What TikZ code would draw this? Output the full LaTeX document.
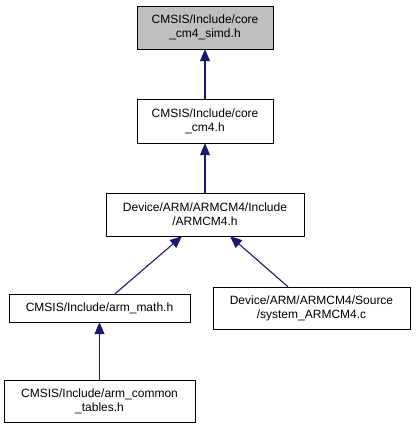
\documentclass[tikz,border=0pt]{standalone}
\usepackage{fontspec}
\setmainfont{Liberation Sans}
\usetikzlibrary{arrows.meta}
\definecolor{incl}{HTML}{191970}

\begin{document}
\begin{tikzpicture}[x=1pt, y=-1pt,
    file/.style={draw, fill=white, align=center, inner sep=0pt, font=\fontsize{12}{14}\selectfont},
    dep/.style={draw=incl, line width=1.1pt, -{Triangle[length=12pt, width=10pt]}}]
    \useasboundingbox (0,0) rectangle (416,429);

    \coordinate (S) at (205, 27.5);
    \coordinate (C) at (205, 121);
    \coordinate (A) at (205, 214.5);
    \coordinate (M) at (99.5, 308);
    \coordinate (Y) at (311.5, 308);
    \coordinate (T) at (99.5, 401);

    \node[file, fill=gray!50, minimum width=136pt, minimum height=43pt] (simd) at (S) {CMSIS/Include/core\\\_cm4\_simd.h};
    \node[file, minimum width=136pt, minimum height=44pt] (core) at (C) {CMSIS/Include/core\\\_cm4.h};
    \node[file, minimum width=198pt, minimum height=43pt] (armcm) at (A) {Device/ARM/ARMCM4/Include\\/ARMCM4.h};
    \node[file, minimum width=181pt, minimum height=28pt] (math) at (M) {CMSIS/Include/arm\_math.h};
    \node[file, minimum width=197pt, minimum height=42pt] (sys) at (Y) {Device/ARM/ARMCM4/Source\\/system\_ARMCM4.c};
    \node[file, minimum width=191pt, minimum height=42pt] (tables) at (T) {CMSIS/Include/arm\_common\\\_tables.h};

    \draw[dep] (core) -- (simd);
    \draw[dep] (armcm) -- (core);
    \draw[dep] ([xshift=15.5pt]math.north) -- ([xshift=-23pt]armcm.south);
    \draw[dep] ([xshift=-23.5pt]sys.north) -- ([xshift=25pt]armcm.south);
    \draw[dep] (tables) -- (math);
\end{tikzpicture}
\end{document}
